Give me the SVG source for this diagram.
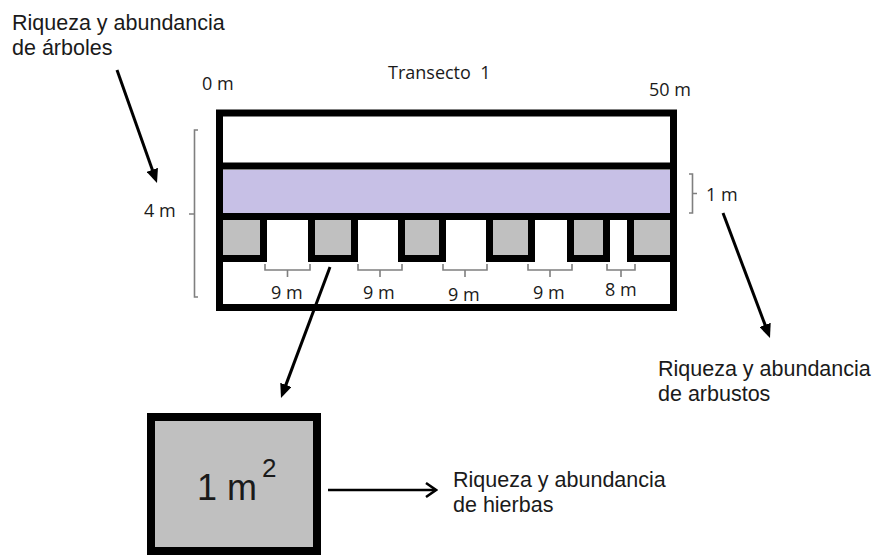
<svg xmlns="http://www.w3.org/2000/svg" width="873" height="555" viewBox="0 0 873 555">
<style>
.lbl{font-family:"Liberation Sans",Arial,sans-serif;font-size:21.5px;fill:#1a1a1a}
.dim{font-family:"Open Sans","Noto Sans",sans-serif;font-size:18px;fill:#1a1a1a;white-space:pre}
.blk{fill:none;stroke:#000;stroke-width:7}
.quad{fill:#c0c0c0;stroke:#000;stroke-width:7}
.brk{fill:none;stroke:#7f7f7f;stroke-width:1.6}
.arr{fill:none;stroke:#000;stroke-width:3}
</style>
<defs>
<marker id="tri" markerUnits="userSpaceOnUse" viewBox="0 0 14 12" refX="4" refY="6" markerWidth="14" markerHeight="12" orient="auto">
<path d="M0,0 L14,6 L0,12 z" fill="#000"/>
</marker>
<marker id="vee" markerUnits="userSpaceOnUse" viewBox="0 0 14 16" refX="12" refY="8" markerWidth="14" markerHeight="16" orient="auto">
<path d="M2,1 L12,8 L2,15" fill="none" stroke="#000" stroke-width="2.5"/>
</marker>
</defs>
<rect width="873" height="555" fill="#fff"/>

<g id="transect">
<rect x="223" y="170" width="447" height="43" fill="#c7c0e6"/>
<rect class="blk" x="219.5" y="113" width="454" height="194.5"/>
<line class="blk" x1="216" y1="166" x2="677" y2="166"/>
<line class="blk" x1="216" y1="216.5" x2="677" y2="216.5"/>
</g>

<g id="quadrats">
<rect class="quad" x="219.5" y="216.5" width="44" height="42"/>
<rect class="quad" x="311.5" y="216.5" width="43" height="42"/>
<rect class="quad" x="401.5" y="216.5" width="41" height="42"/>
<rect class="quad" x="489.5" y="216.5" width="42" height="42"/>
<rect class="quad" x="570.5" y="216.5" width="36" height="42"/>
<rect class="quad" x="630.5" y="216.5" width="43" height="42"/>
</g>

<g id="brackets">
<path class="brk" d="M265,264 V270 H310 V264 M287.5,270 V277"/>
<path class="brk" d="M358,264 V270 H402 V264 M380,270 V277"/>
<path class="brk" d="M443,264 V270 H487 V264 M465,270 V277"/>
<path class="brk" d="M528,264 V270 H572 V264 M550,270 V277"/>
<path class="brk" d="M607,264 V270 H635 V264 M621,270 V277"/>
<path class="brk" d="M198,130 H194.5 V297 H198 M194.5,214 H189"/>
<path class="brk" d="M689,174 H692.5 V213 H689 M692.5,193.5 H697"/>
</g>

<g id="dim-labels">
<text class="dim" x="202" y="90">0 m</text>
<text class="dim" x="388" y="79">Transecto  1</text>
<text class="dim" x="649" y="96">50 m</text>
<text class="dim" x="144" y="217">4 m</text>
<text class="dim" x="706" y="201">1 m</text>
<text class="dim" x="271" y="299">9 m</text>
<text class="dim" x="363" y="299">9 m</text>
<text class="dim" x="448" y="301">9 m</text>
<text class="dim" x="533" y="299">9 m</text>
<text class="dim" x="605" y="296">8 m</text>
</g>

<g id="quadrat-detail">
<rect x="151" y="417" width="166" height="134" fill="#c0c0c0" stroke="#000" stroke-width="8"/>
<text x="197" y="500" font-family="Liberation Sans, Arial, sans-serif" font-size="36" fill="#1a1a1a">1 m</text>
<text x="262" y="477" font-family="Liberation Sans, Arial, sans-serif" font-size="26" fill="#1a1a1a">2</text>
</g>

<g id="label-arboles">
<text class="lbl" x="12" y="30">Riqueza y abundancia</text>
<text class="lbl" x="12" y="55">de árboles</text>
</g>
<g id="label-arbustos">
<text class="lbl" x="658" y="376">Riqueza y abundancia</text>
<text class="lbl" x="658" y="401">de arbustos</text>
</g>
<g id="label-hierbas">
<text class="lbl" x="453" y="487">Riqueza y abundancia</text>
<text class="lbl" x="453" y="512">de hierbas</text>
</g>

<g id="connectors">
<line class="arr" x1="117" y1="70" x2="153.66" y2="173.57" marker-end="url(#tri)"/>
<line class="arr" x1="723" y1="213" x2="766.48" y2="328.64" marker-end="url(#tri)"/>
<line class="arr" x1="330" y1="267" x2="284.5" y2="388.64" marker-end="url(#tri)"/>
<line x1="328" y1="490" x2="436" y2="490" stroke="#000" stroke-width="2.5" marker-end="url(#vee)"/>
</g>
</svg>
